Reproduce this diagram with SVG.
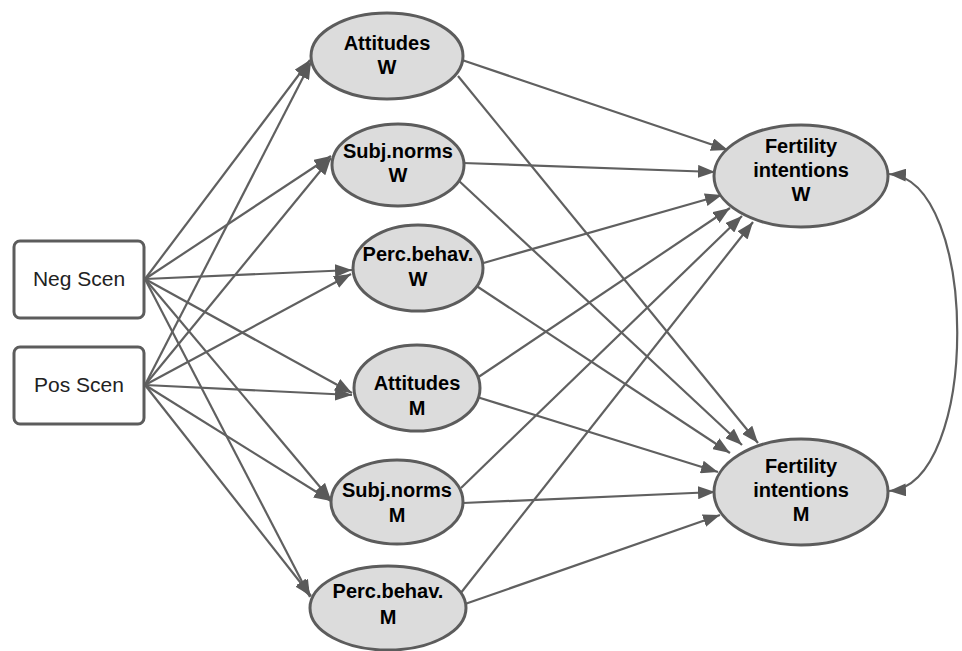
<svg xmlns="http://www.w3.org/2000/svg" width="962" height="651" viewBox="0 0 962 651">
<style>
.bg{fill:#ffffff}
.box{fill:#ffffff;stroke:#5c5c5c;stroke-width:3}
.ell{fill:#dcdcdc;stroke:#5c5c5c;stroke-width:3}
.c{fill:none;stroke:#606060;stroke-width:2.2;marker-end:url(#ah)}
.t{font-family:"Liberation Sans",Arial,sans-serif;font-size:20px;font-weight:bold;fill:#000;text-anchor:middle}
.r{font-family:"Liberation Sans",Arial,sans-serif;font-size:21px;fill:#222;text-anchor:middle}
</style>
<defs>
<marker id="ah" viewBox="0 0 17 13" refX="17" refY="6.5" markerWidth="17" markerHeight="13" markerUnits="userSpaceOnUse" orient="auto-start-reverse">
<path d="M0,0 L17,6.5 L0,13 z" fill="#5a5a5a"/>
</marker>
</defs>
<rect class="bg" x="0" y="0" width="962" height="651"/>
<g id="connectors">
<line class="c" x1="145" y1="279" x2="310" y2="60"/>
<line class="c" x1="145" y1="279" x2="331" y2="156"/>
<line class="c" x1="145" y1="279" x2="352" y2="270"/>
<line class="c" x1="145" y1="279" x2="352" y2="393"/>
<line class="c" x1="145" y1="279" x2="331" y2="500"/>
<line class="c" x1="145" y1="279" x2="310" y2="597"/>
<line class="c" x1="145" y1="385" x2="311" y2="62"/>
<line class="c" x1="145" y1="385" x2="331" y2="158"/>
<line class="c" x1="145" y1="385" x2="351" y2="274"/>
<line class="c" x1="145" y1="385" x2="352" y2="395"/>
<line class="c" x1="145" y1="385" x2="331" y2="501"/>
<line class="c" x1="145" y1="385" x2="311" y2="596"/>
<line class="c" x1="462" y1="60" x2="728" y2="150"/>
<line class="c" x1="458" y1="76" x2="758" y2="443"/>
<line class="c" x1="463" y1="163" x2="715" y2="172"/>
<line class="c" x1="458" y1="180" x2="742" y2="445"/>
<line class="c" x1="480" y1="264" x2="722" y2="195"/>
<line class="c" x1="475" y1="285" x2="730" y2="453"/>
<line class="c" x1="477" y1="378" x2="730" y2="208"/>
<line class="c" x1="477" y1="397" x2="718" y2="472"/>
<line class="c" x1="461" y1="488" x2="742" y2="216"/>
<line class="c" x1="463" y1="503" x2="715" y2="492"/>
<line class="c" x1="460" y1="594" x2="753" y2="222"/>
<line class="c" x1="465" y1="604" x2="720" y2="515"/>
<path class="c" style="marker-start:url(#ah)" d="M889,174 C980,180 980,485 889,491"/>
</g>
<g id="negscen"><rect class="box" x="14" y="241" width="130" height="77" rx="6"/><text class="r" x="79" y="286">Neg Scen</text></g>
<g id="posscen"><rect class="box" x="14" y="347" width="130" height="77" rx="6"/><text class="r" x="79" y="392">Pos Scen</text></g>
<g id="attw"><ellipse class="ell" cx="387" cy="56" rx="76" ry="43"/><text class="t" x="387" y="50">Attitudes</text><text class="t" x="387" y="74">W</text></g>
<g id="subjw"><ellipse class="ell" cx="398" cy="165" rx="66" ry="41"/><text class="t" x="398" y="158">Subj.norms</text><text class="t" x="398" y="182">W</text></g>
<g id="percw"><ellipse class="ell" cx="418" cy="268" rx="65" ry="43"/><text class="t" x="418" y="261">Perc.behav.</text><text class="t" x="418" y="286">W</text></g>
<g id="attm"><ellipse class="ell" cx="417" cy="388" rx="63" ry="43"/><text class="t" x="417" y="390">Attitudes</text><text class="t" x="417" y="415">M</text></g>
<g id="subjm"><ellipse class="ell" cx="397" cy="502" rx="66" ry="42"/><text class="t" x="397" y="497">Subj.norms</text><text class="t" x="397" y="522">M</text></g>
<g id="percm"><ellipse class="ell" cx="388" cy="608" rx="78" ry="42"/><text class="t" x="388" y="598">Perc.behav.</text><text class="t" x="388" y="624">M</text></g>
<g id="fertw"><ellipse class="ell" cx="801" cy="176" rx="87" ry="51"/><text class="t" x="801" y="153">Fertility</text><text class="t" x="801" y="177">intentions</text><text class="t" x="801" y="201">W</text></g>
<g id="fertm"><ellipse class="ell" cx="801" cy="492" rx="87" ry="53"/><text class="t" x="801" y="473">Fertility</text><text class="t" x="801" y="497">intentions</text><text class="t" x="801" y="521">M</text></g>
</svg>
